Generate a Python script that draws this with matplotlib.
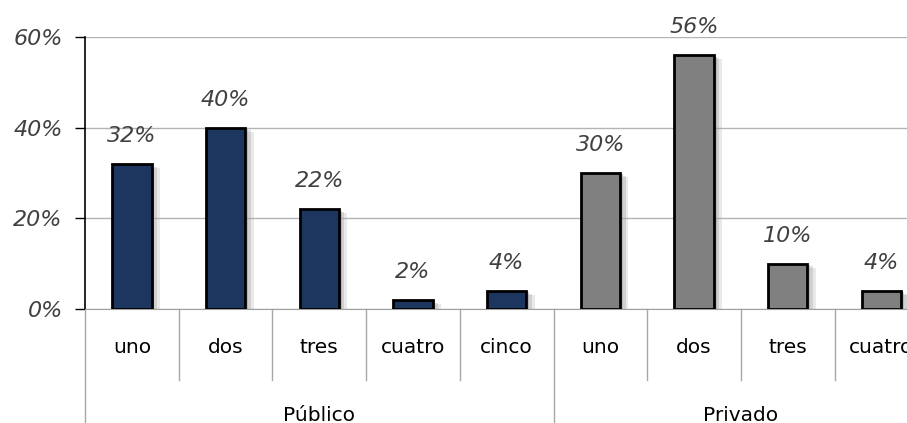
import matplotlib.pyplot as plt
import matplotlib.patheffects as pe
from matplotlib.transforms import blended_transform_factory

# datos
grupos = ["Público", "Privado"]
cat_publico = ["uno", "dos", "tres", "cuatro", "cinco"]
val_publico = [32, 40, 22, 2, 4]
cat_privado = ["uno", "dos", "tres", "cuatro"]
val_privado = [30, 56, 10, 4]

COLOR_PUB = "#1c3660"
COLOR_PRIV = "#808080"
TXT = "#404040"

W, H = 907, 423
fig = plt.figure(figsize=(W / 100, H / 100), dpi=100)
cat_w = 93.7  # px por categoria
left_px, right_px = 85, W
ax = fig.add_axes([left_px / W, (H - 309) / H, (right_px - left_px) / W, 272 / H])

n_pub = len(cat_publico)
x_pub = list(range(n_pub))
x_priv = [n_pub + i for i in range(len(cat_privado))]

# sombra difusa a la derecha de las barras
sombra = [pe.SimplePatchShadow(offset=(6, -3), shadow_rgbFace="#aaaaaa", alpha=0.25),
          pe.SimplePatchShadow(offset=(4, -2), shadow_rgbFace="#999999", alpha=0.3),
          pe.SimplePatchShadow(offset=(2, -1), shadow_rgbFace="#888888", alpha=0.35),
          pe.Normal()]

for xs, vals, col in [(x_pub, val_publico, COLOR_PUB), (x_priv, val_privado, COLOR_PRIV)]:
    bars = ax.bar(xs, vals, width=0.42, color=col, edgecolor="black", linewidth=2, zorder=3)
    for b in bars:
        b.set_path_effects(sombra)
    for x, v in zip(xs, vals):
        ax.annotate(f"{v}%", (x, v), xytext=(0, 13), textcoords="offset points",
                    ha="center", va="bottom", fontsize=16, style="italic", color=TXT)

ax.set_ylim(0, 60)
ax.set_xlim(-0.5, -0.5 + (right_px - left_px) / cat_w)
ax.set_yticks([0, 20, 40, 60])
ax.set_yticklabels(["0%", "20%", "40%", "60%"], fontsize=16, style="italic", color=TXT)
ax.tick_params(axis="y", length=7, width=1, color="black", pad=9)
ax.set_xticks([])
ax.yaxis.grid(True, color="#b4b4b4", linewidth=1)
ax.set_axisbelow(True)
for s in ["top", "right"]:
    ax.spines[s].set_visible(False)
ax.spines["left"].set_color("black")
ax.spines["left"].set_linewidth(1.2)
ax.spines["bottom"].set_color("#a0a0a0")

# eje de categorias en dos niveles
tr = blended_transform_factory(ax.transData, ax.transAxes)
todas = cat_publico + cat_privado
for i, c in enumerate(todas):
    ax.text(i, -0.143, c, transform=tr, ha="center", va="center", fontsize=14.5, color="black")
for i in range(len(todas) + 1):
    xb = i - 0.5
    y_end = -0.43 if i in (0, n_pub, len(todas)) else -0.261
    ax.plot([xb, xb], [0, y_end], transform=tr, color="#a8a8a8", linewidth=1, clip_on=False)

ax.text((n_pub - 1) / 2, -0.39, grupos[0], transform=tr, ha="center", va="center", fontsize=14.5)
ax.text(n_pub + (len(cat_privado) - 1) / 2, -0.39, grupos[1], transform=tr, ha="center",
        va="center", fontsize=14.5)

fig.savefig("out.png", dpi=100)
